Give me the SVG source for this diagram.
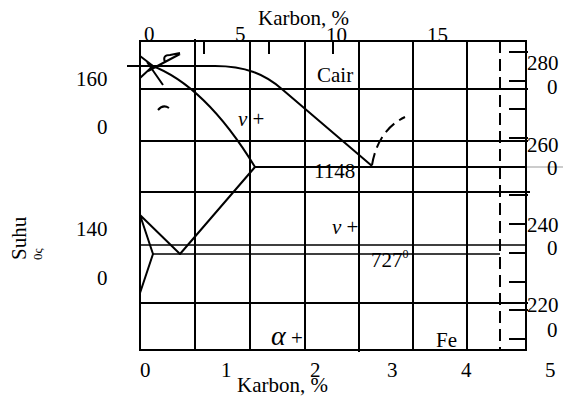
<svg xmlns="http://www.w3.org/2000/svg" width="563" height="396" viewBox="0 0 563 396">
<style>
text{font-family:"Liberation Serif","Times New Roman",serif;font-size:21px;fill:#000}
.g{stroke:#000;stroke-width:2;fill:none}
.t{stroke:#000;stroke-width:1.5;fill:none}
.c{stroke:#000;stroke-width:2;fill:none;stroke-linejoin:round}
.d{stroke:#000;stroke-width:2;fill:none;stroke-dasharray:12,6}
.gr{font-style:italic}
</style>
<rect width="563" height="396" fill="#fff"/>
<g id="grid">
<rect x="140" y="41" width="386" height="309" class="g"/>
<path class="g" d="M195,39V350M250,41V350M305,41V350M359,41V352M413,41V350M467,41V350"/>
<path class="g" d="M140,89H528M140,141H528M255,167H526M140,192H530M140,303H528"/>
<path class="t" d="M140,245H526M153,254H500"/>
<path d="M510,167H563" stroke="#999" stroke-width="1" fill="none"/>
<path class="d" d="M500,41V350"/>
<path class="g" d="M204,41V54M269,41V54M333,41V54"/>
<path class="g" d="M509,52H528M509,81H526M509,109H526M509,138H528M509,167H527M509,195H528M509,224H526M509,253H526M509,282H526M509,310H528M509,339H526"/>
</g>
<g id="connectors">
<path class="c" d="M147,66H215C245,66 265,74 283,90L372,166"/>
<path class="c" d="M150,65Q205,85 255,167L180,254L140,215L153,254L140,293"/>
<path class="d" d="M372,165Q378,130 405,117"/>
<path class="c" d="M127,66H147M140,56L153,66L140,78M147,62L163,85M148,71L180,54M165,62Q162,55 170,55L180,53"/>
<path class="c" d="M158,110Q163,104 169,108"/>
</g>
<g id="axes-labels">
<text x="258" y="25">Karbon, %</text>
<text x="144" y="41">0</text>
<text x="235" y="41">5</text>
<text x="326" y="42">10</text>
<text x="427" y="42">15</text>
<text x="76" y="86">160</text>
<text x="97" y="134">0</text>
<text x="76" y="236">140</text>
<text x="97" y="285">0</text>
<text x="527" y="70">280</text>
<text x="547" y="94">0</text>
<text x="527" y="152">260</text>
<text x="547" y="175">0</text>
<text x="527" y="232">240</text>
<text x="547" y="255">0</text>
<text x="527" y="312">220</text>
<text x="547" y="337">0</text>
<text x="140" y="377">0</text>
<text x="221" y="377">1</text>
<text x="310" y="377">2</text>
<text x="387" y="377">3</text>
<text x="461" y="377">4</text>
<text x="545" y="377">5</text>
<text x="237" y="392">Karbon, %</text>
<text transform="translate(26,260) rotate(-90)">Suhu</text>
<text transform="translate(42,260) rotate(-90)" style="font-size:13px">0ς</text>
</g>
<g id="region-labels">
<text x="317" y="82">Cair</text>
<text x="238" y="126"><tspan class="gr">ν</tspan> +</text>
<text x="314" y="178">1148</text>
<text x="332" y="234"><tspan class="gr">ν</tspan> +</text>
<text x="371" y="267">727<tspan dy="-9" style="font-size:12px">0</tspan></text>
<text x="271" y="345"><tspan class="gr" style="font-size:28px">α</tspan> +</text>
<text x="436" y="347">Fe</text>
</g>
</svg>
